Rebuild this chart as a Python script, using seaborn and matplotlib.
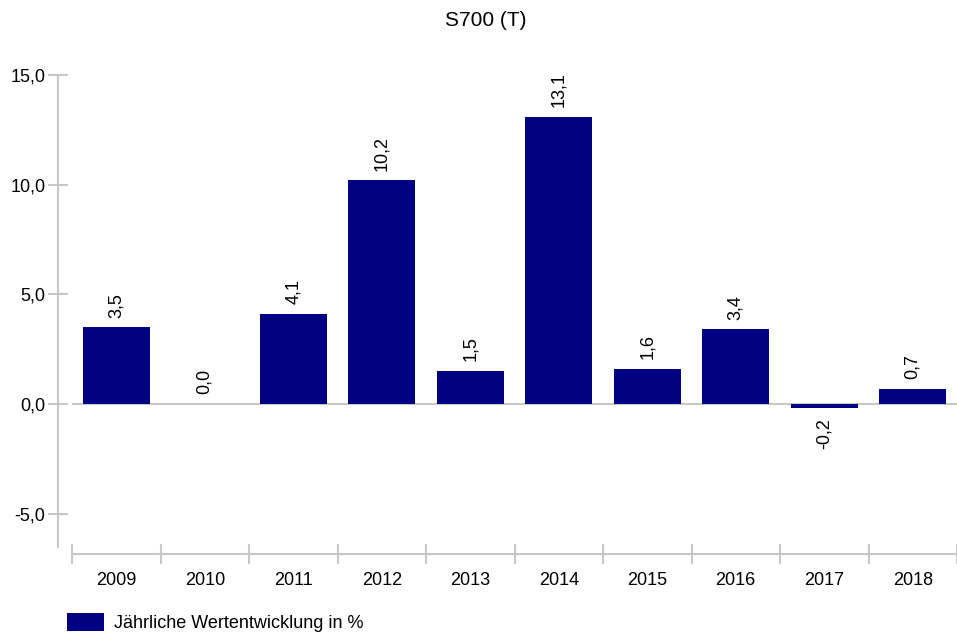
import matplotlib
matplotlib.use('Agg')
import matplotlib.pyplot as plt
import seaborn as sns

years = ['2009', '2010', '2011', '2012', '2013', '2014', '2015', '2016', '2017', '2018']
values = [3.5, 0.0, 4.1, 10.2, 1.5, 13.1, 1.6, 3.4, -0.2, 0.7]
y_ticks = [-5, 0, 5, 10, 15]
series_name = 'Jährliche Wertentwicklung in %'
title = 'S700 (T)'


def fmt(v):
    return f'{v:.1f}'.replace('.', ',')


def main():
    sns.set_style('white')
    plt.rcParams['font.family'] = ['Liberation Sans', 'DejaVu Sans']
    plt.rcParams['text.color'] = 'black'
    plt.rcParams['xtick.labelcolor'] = 'black'
    plt.rcParams['ytick.labelcolor'] = 'black'
    grey = '#c8c8c8'
    navy = '#000080'

    fig = plt.figure(figsize=(9.57, 6.34), dpi=100)
    ax = fig.add_axes([72 / 957, 1 - 546.6 / 634, 1 - 72 / 957, (546.6 - 75) / 634])

    sns.barplot(x=years, y=values, color=navy, saturation=1, width=0.76,
                linewidth=0, ax=ax, label=series_name)

    ax.set_xlim(-0.5, len(years) - 0.5)
    ax.set_ylim(-6.5, 15)
    ax.axhline(0, color=grey, lw=1.5, zorder=0)

    # value labels
    for i, v in enumerate(values):
        off = 7 if v >= 0 else -7
        ax.annotate(fmt(v), (i, v), xytext=(0, off), textcoords='offset points',
                    rotation=90, ha='center', va='bottom' if v >= 0 else 'top',
                    fontsize=13, color='black')

    # spines
    for s in ['top', 'right']:
        ax.spines[s].set_visible(False)
    ax.spines['left'].set_position(('outward', 10))
    ax.spines['left'].set_bounds(-6.5, 15)
    ax.spines['bottom'].set_position(('outward', 5))
    for s in ['left', 'bottom']:
        ax.spines[s].set_color(grey)
        ax.spines[s].set_linewidth(1.5)

    ax.set_yticks(y_ticks)
    ax.set_yticklabels([fmt(t) for t in y_ticks], fontsize=13)
    ax.tick_params(axis='y', direction='inout', length=14, width=1.5,
                   color=grey, pad=2, left=True)

    # category boundaries as major ticks, labels on minor ticks
    ax.set_xticks([i - 0.5 for i in range(len(years) + 1)])
    ax.set_xticklabels([])
    ax.set_xticks(range(len(years)), minor=True)
    ax.set_xticklabels(years, minor=True, fontsize=13)
    ax.tick_params(axis='x', which='major', direction='inout', length=14,
                   width=1.5, color=grey, bottom=True)
    ax.tick_params(axis='x', which='minor', length=0, pad=13)
    ax.set_xlabel('')
    ax.set_ylabel('')

    fig.text(486 / 957, 1 - 20 / 634, title, ha='center', va='center',
             fontsize=15, color='black')

    ax.legend(loc='upper left', bbox_to_anchor=(62 / 957, 1 - 608 / 634),
              bbox_transform=fig.transFigure, frameon=False, fontsize=13,
              handlelength=2.0, handleheight=1.1, handletextpad=0.6,
              borderaxespad=0, borderpad=0.3)

    fig.savefig('out.png', dpi=100)


if __name__ == '__main__':
    main()
